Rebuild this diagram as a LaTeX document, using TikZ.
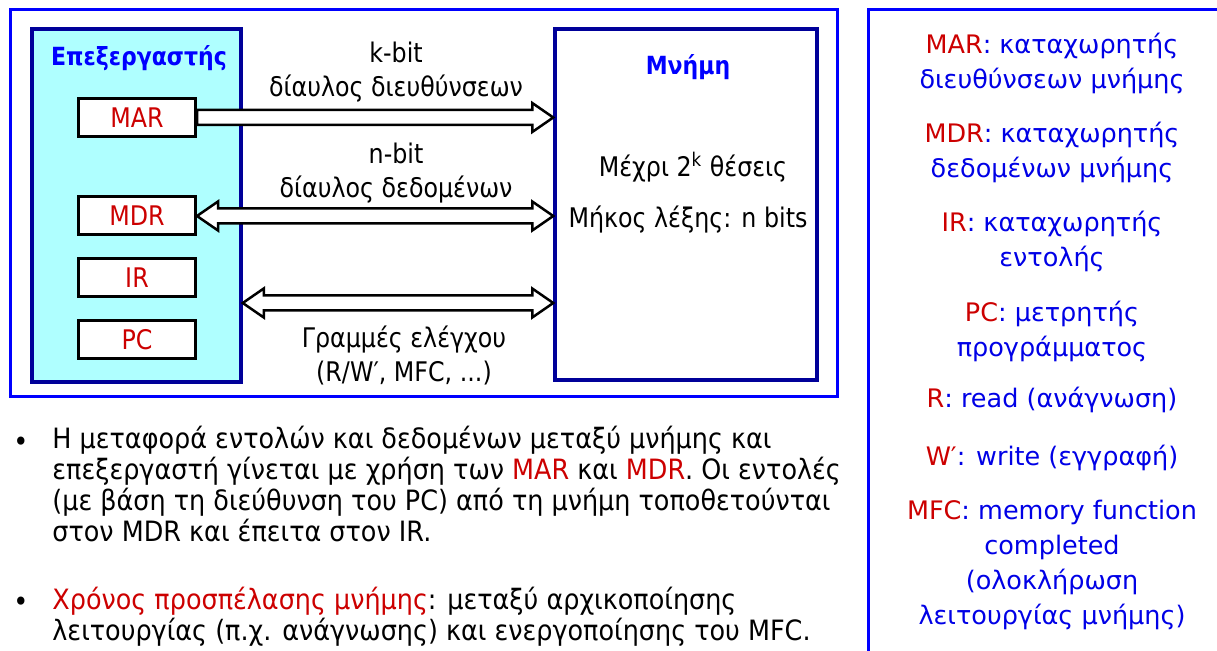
\documentclass[tikz,border=0pt]{standalone}
\usepackage{fontspec}
\setmainfont{DejaVu Sans}[FakeStretch=0.88]
\newfontfamily\keyfont{DejaVu Sans}
\newfontfamily\notefont{DejaVu Sans}[FakeStretch=0.91]
\usepackage{tikz}
\usetikzlibrary{calc,positioning}
\definecolor{frameblue}{RGB}{0,0,255}
\definecolor{navy}{RGB}{0,0,153}
\definecolor{procfill}{RGB}{175,255,255}
\definecolor{regred}{RGB}{204,0,0}
\definecolor{keyblue}{RGB}{0,0,230}
\tikzset{
  frame/.style={draw=frameblue, line width=1.5pt},
  unit/.style={draw=navy, line width=1.75pt, inner sep=0pt},
  reg/.style={draw=black, line width=1.5pt, fill=white, inner sep=0pt, minimum width=58.5pt, minimum height=19pt, text=regred, font=\fontsize{13.5}{17}\selectfont},
  title/.style={font=\fontsize{12.5}{15}\selectfont\bfseries, text=frameblue, inner sep=0pt},
  txt/.style={font=\fontsize{13.5}{17}\selectfont, align=center, inner sep=0pt},
  bus/.style={draw=black, line width=1.25pt, fill=white},
  key/.style={font=\keyfont\fontsize{12.75}{17.5}\selectfont, text=keyblue, align=center, inner sep=0pt},
  para/.style={font=\notefont\fontsize{14}{15.4}\selectfont, align=left, anchor=north west, inner sep=0pt},
}

\begin{document}
\begin{tikzpicture}[x=0.5pt, y=-0.5pt]
\useasboundingbox (0,0) rectangle (1217,651);
% --- knobs (bus arrows) ---
\def\sw{3.75pt}   % half width of the shaft
\def\hw{7.25pt}   % half width of the head
\def\hl{10.5pt}   % length of the head

% --- system frame ---
\node[frame, minimum width=413.5pt, minimum height=193.5pt] (sys) at (423.5,203.5) {};

% --- processor with its registers ---
\node[unit, fill=procfill, minimum width=104.5pt, minimum height=176.5pt] (cpu) at (136.5,205.5) {};
\node[title] (cpuT) at (139,58) {Επεξεργαστής};
\node[reg] (MAR) at (137,117.5) {MAR};
\node[reg] (MDR) at (137,216) {MDR};
\node[reg, below=10.5pt of MDR] (IR) {IR};
\node[reg, below=10.5pt of IR] (PC) {PC};

% --- memory ---
\node[unit, minimum width=131pt, minimum height=175.5pt] (mem) at (686,204.5) {};
\node[title] (memT) at (688,67) {Μνήμη};
\node[txt] (cap) at (693,167) {Μέχρι 2\textsuperscript{k} θέσεις};
\node[txt] (wlen) at (688,220) {Μήκος λέξης: n bits};

% --- buses ---
\coordinate (ctl) at (cpu.east |- 0,303);
\draw[bus] let \p1=(MAR.east), \p2=(mem.west) in
  (\x1,\y1+\sw) -- (\x2-\hl,\y1+\sw) -- (\x2-\hl,\y1+\hw) -- (\x2,\y1)
  -- (\x2-\hl,\y1-\hw) -- (\x2-\hl,\y1-\sw) -- (\x1,\y1-\sw) -- cycle;
\draw[bus] let \p1=(MDR.east), \p2=(mem.west) in
  (\x1,\y1) -- (\x1+\hl,\y1+\hw) -- (\x1+\hl,\y1+\sw) -- (\x2-\hl,\y1+\sw)
  -- (\x2-\hl,\y1+\hw) -- (\x2,\y1) -- (\x2-\hl,\y1-\hw) -- (\x2-\hl,\y1-\sw)
  -- (\x1+\hl,\y1-\sw) -- (\x1+\hl,\y1-\hw) -- cycle;
\draw[bus] let \p1=(ctl), \p2=(mem.west) in
  (\x1,\y1) -- (\x1+\hl,\y1+\hw) -- (\x1+\hl,\y1+\sw) -- (\x2-\hl,\y1+\sw)
  -- (\x2-\hl,\y1+\hw) -- (\x2,\y1) -- (\x2-\hl,\y1-\hw) -- (\x2-\hl,\y1-\sw)
  -- (\x1+\hl,\y1-\sw) -- (\x1+\hl,\y1-\hw) -- cycle;

\node[txt] (addrL) at (396,72) {k-bit\\δίαυλος διευθύνσεων};
\node[txt] (dataL) at (396,173.5) {n-bit\\δίαυλος δεδομένων};
\node[txt] (ctrlL) at (404,355.5) {Γραμμές ελέγχου\\(R/W′, MFC, ...)};

% --- legend on the right ---
\draw[frame] (1230,10) -| (868,670);
\foreach \nm/\y/\reg/\desc in {
  MAR/63.5/MAR/{καταχωρητής\\διευθύνσεων μνήμης},
  MDR/152.5/MDR/{καταχωρητής\\δεδομένων μνήμης},
  IR/241.5/IR/{καταχωρητής\\εντολής},
  PC/331/PC/{μετρητής\\προγράμματος},
  R/399.5/R/{read (ανάγνωση)},
  W/458/W′/{write (εγγραφή)},
  MFC/564.5/MFC/{memory function\\completed\\(ολοκλήρωση\\λειτουργίας μνήμης)}}{
  \node[key] (k\nm) at (1052,\y) {\textcolor{regred}{\reg}: \desc};
}

% --- notes below ---
\node[para, anchor=center] (dotA) at (21,444) {•};
\node[para] (noteA) at (52,426) {Η μεταφορά εντολών και δεδομένων μεταξύ μνήμης και\\
  επεξεργαστή γίνεται με χρήση των \textcolor{regred}{MAR} και \textcolor{regred}{MDR}. Οι εντολές\\
  (με βάση τη διεύθυνση του PC) από τη μνήμη τοποθετούνται\\
  στον MDR και έπειτα στον IR.};
\node[para, anchor=center] (dotB) at (21,604) {•};
\node[para] (noteB) at (52,587) {\textcolor{regred}{Χρόνος προσπέλασης μνήμης}: μεταξύ αρχικοποίησης\\
  λειτουργίας (π.χ. ανάγνωσης) και ενεργοποίησης του MFC.};

\end{tikzpicture}
\end{document}
